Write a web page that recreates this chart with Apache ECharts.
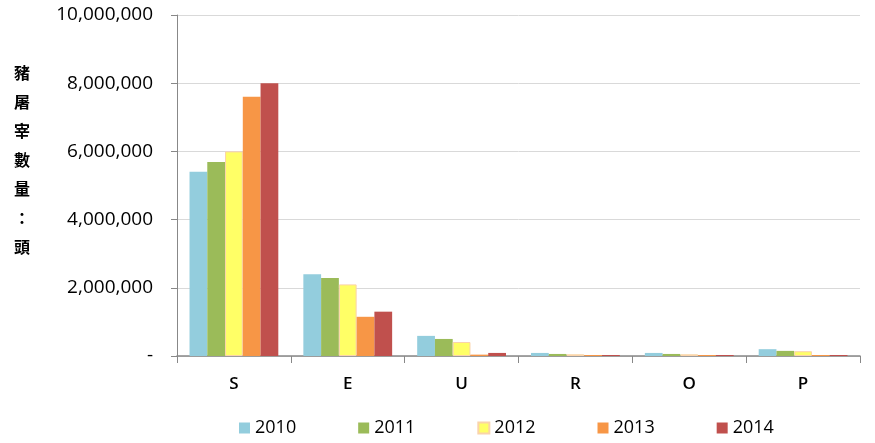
<!DOCTYPE html>
<html><head><meta charset="utf-8">
<script src="https://cdn.jsdelivr.net/npm/echarts@6/dist/echarts.min.js"></script>
<style>html,body{margin:0;padding:0;background:#fff}#c{width:875px;height:443px}</style>
</head><body><div id="c"></div>
<script>
var categories = ['S','E','U','R','O','P'];
var years = ['2010','2011','2012','2013','2014'];
var v2010 = [5400000, 2400000, 590000, 90000, 90000, 200000];
var v2011 = [5690000, 2290000, 500000, 60000, 60000, 150000];
var v2012 = [6000000, 2100000, 410000, 50000, 50000, 140000];
var v2013 = [7600000, 1150000, 40000, 30000, 30000, 30000];
var v2014 = [8000000, 1300000, 90000, 30000, 30000, 30000];
var yTicks = [0, 2000000, 4000000, 6000000, 8000000, 10000000];
var yName = '豬屠宰數量：頭';

var colors = ['#93CDDD', '#9BBB59', '#FFFF66', '#F79646', '#C0504D'];
var allVals = [v2010, v2011, v2012, v2013, v2014];
var font = '"Open Sans", "Noto Sans CJK TC", sans-serif';

var series = years.map(function (y, i) {
  return {
    name: y, type: 'bar', data: allVals[i],
    barGap: '0%', barCategoryGap: '22%',
    itemStyle: {
      color: colors[i],
      borderColor: i === 2 ? '#FAD3AA' : colors[i],
      borderWidth: i === 2 ? 1 : 0
    }
  };
});

var chart = echarts.init(document.getElementById('c'));
chart.setOption({
  animation: false,
  textStyle: { fontFamily: font },
  grid: { left: 177, right: 15, top: 15, bottom: 87, containLabel: false },
  graphic: [{
    type: 'text', left: 14, top: 58,
    style: {
      text: yName.split('').join('\n'),
      font: 'bold 16px "Noto Sans CJK TC", sans-serif',
      lineHeight: 29, fill: '#000'
    }
  }],
  legend: {
    bottom: 1, left: 234, itemWidth: 11, itemHeight: 11, itemGap: 62,
    icon: 'rect',
    textStyle: { fontSize: 18, color: '#000', fontFamily: font },
    data: years
  },
  xAxis: {
    type: 'category', data: categories,
    axisLine: { lineStyle: { color: '#888', width: 1.5 } },
    axisTick: { show: true, length: 7, lineStyle: { color: '#888' } },
    axisLabel: { fontSize: 17, fontWeight: 600, color: '#000', margin: 20, fontFamily: font }
  },
  yAxis: {
    type: 'value', min: yTicks[0], max: yTicks[yTicks.length - 1], interval: yTicks[1] - yTicks[0],
    axisLine: { show: true, lineStyle: { color: '#888' } },
    axisTick: { show: true, length: 6, lineStyle: { color: '#888' } },
    splitLine: { lineStyle: { color: '#d9d9d9' } },
    axisLabel: {
      fontSize: 19, color: '#000', margin: 24, fontFamily: font,
      formatter: function (v) {
        if (v === 0) return '-';
        return v.toString().replace(/\B(?=(\d{3})+(?!\d))/g, ',');
      }
    }
  },
  series: series
});
</script></body></html>
